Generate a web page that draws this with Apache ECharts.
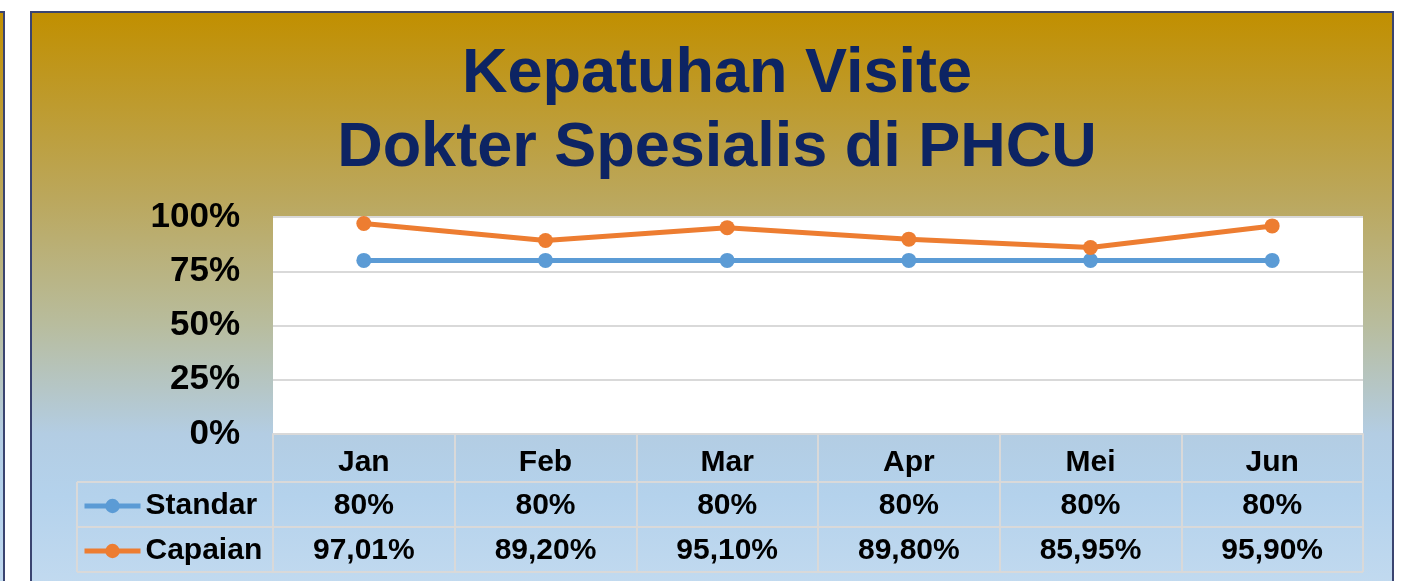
<!DOCTYPE html>
<html>
<head>
<meta charset="utf-8">
<title>Kepatuhan Visite Dokter Spesialis di PHCU</title>
<script src="https://cdn.jsdelivr.net/npm/echarts@6/dist/echarts.min.js"></script>
<style>
  html, body { margin: 0; padding: 0; background: #fff; }
  #chart { width: 1417px; height: 581px; }
</style>
</head>
<body>
<div id="chart"></div>
<script>
var months = ['Jan', 'Feb', 'Mar', 'Apr', 'Mei', 'Jun'];
var standar = [80, 80, 80, 80, 80, 80];
var capaian = [97.01, 89.20, 95.10, 89.80, 85.95, 95.90];
var seriesNames = ['Standar', 'Capaian'];

var FONT = '"Liberation Sans", Arial, sans-serif';
var GRID_LEFT = 273, GRID_TOP = 217, GRID_RIGHT = 54, GRID_BOTTOM = 147;
var ROW_H = 45;        // table row height
var TABLE_LEFT = 77;   // legend column left edge
var LINE_GRAY = '#D9D9D9';

// 80 -> "80%", 97.01 -> "97,01%"
function fmt(v) {
    if (v % 1 === 0) return v + '%';
    return v.toFixed(2).replace('.', ',') + '%';
}

var panelFill = {
    type: 'linear', x: 0, y: 0, x2: 0, y2: 1,
    colorStops: [
        { offset: 0, color: '#C18F00' },
        { offset: 0.3, color: '#BBA75C' },
        { offset: 0.5, color: '#B8BC9C' },
        { offset: 0.68, color: '#B3CDE3' },
        { offset: 0.78, color: '#B4D2EC' },
        { offset: 1, color: '#C9DEF1' }
    ]
};

var myChart = echarts.init(document.getElementById('chart'));

var W = 1417, H = 581;
var plotRight = W - GRID_RIGHT;
var axisY = H - GRID_BOTTOM;
var row1 = axisY + 48, row2 = row1 + ROW_H, row3 = row2 + ROW_H;

function hline(x1, x2, y) {
    return { type: 'line', z: 10, shape: { x1: x1, y1: y, x2: x2, y2: y },
             style: { stroke: LINE_GRAY, lineWidth: 2 } };
}

var option = {
    animation: false,
    textStyle: { fontFamily: FONT },
    title: {
        text: 'Kepatuhan Visite\nDokter Spesialis di PHCU',
        left: 712,
        textAlign: 'center',
        top: 33,
        textStyle: {
            fontFamily: FONT,
            fontSize: 63,
            fontWeight: 'bold',
            lineHeight: 74,
            color: '#0D2463'
        }
    },
    graphic: [
        // side panel sliver and main panel
        { type: 'rect', z: -10, shape: { x: -30, y: 12, width: 34, height: 620 },
          style: { fill: panelFill, stroke: '#3A4470', lineWidth: 2 } },
        { type: 'rect', z: -10, shape: { x: 31, y: 12, width: 1362, height: 620 },
          style: { fill: panelFill, stroke: '#3A4470', lineWidth: 2 } },
        // data table lines
        hline(TABLE_LEFT, plotRight, row1),
        hline(TABLE_LEFT, plotRight, row2),
        hline(TABLE_LEFT, plotRight, row3),
        { type: 'line', z: 10, shape: { x1: TABLE_LEFT, y1: row1, x2: TABLE_LEFT, y2: row3 },
          style: { stroke: LINE_GRAY, lineWidth: 2 } }
    ],
    legend: {
        data: seriesNames,
        orient: 'vertical',
        left: 82,
        top: row1 + 9,
        padding: 0,
        itemWidth: 56,
        itemHeight: 18,
        itemGap: 15,
        lineStyle: { width: 5 },
        textStyle: { fontFamily: FONT, fontSize: 30, fontWeight: 'bold', color: '#000', lineHeight: 30 }
    },
    grid: {
        left: GRID_LEFT, top: GRID_TOP, right: GRID_RIGHT, bottom: GRID_BOTTOM,
        show: true, backgroundColor: '#fff', borderWidth: 0
    },
    xAxis: [
        {
            type: 'category',
            data: months,
            boundaryGap: true,
            axisLine: { lineStyle: { color: LINE_GRAY, width: 2 } },
            axisTick: { show: true, length: row3 - axisY, lineStyle: { color: LINE_GRAY, width: 2 } },
            axisLabel: { margin: 14, fontFamily: FONT, fontSize: 30, fontWeight: 'bold', color: '#000' }
        },
        {
            type: 'category',
            data: months,
            position: 'bottom',
            offset: 45,
            axisLine: { show: false },
            axisTick: { show: false },
            axisLabel: {
                margin: 12, fontFamily: FONT, fontSize: 30, fontWeight: 'bold', color: '#000',
                formatter: function (v, i) { return fmt(standar[i]); }
            }
        },
        {
            type: 'category',
            data: months,
            position: 'bottom',
            offset: 90,
            axisLine: { show: false },
            axisTick: { show: false },
            axisLabel: {
                margin: 12, fontFamily: FONT, fontSize: 30, fontWeight: 'bold', color: '#000',
                formatter: function (v, i) { return fmt(capaian[i]); }
            }
        }
    ],
    yAxis: {
        type: 'value',
        min: 0,
        max: 100,
        interval: 25,
        axisLine: { show: false },
        axisTick: { show: false },
        axisLabel: {
            formatter: '{value}%', margin: 33, padding: [4, 0, 0, 0],
            fontFamily: FONT, fontSize: 35, fontWeight: 'bold', color: '#000'
        },
        splitLine: { lineStyle: { color: LINE_GRAY, width: 2 } }
    },
    series: [
        {
            name: 'Standar',
            type: 'line',
            data: standar,
            symbol: 'circle',
            symbolSize: 15,
            color: '#5B9BD5',
            lineStyle: { width: 5, color: '#5B9BD5' }
        },
        {
            name: 'Capaian',
            type: 'line',
            data: capaian,
            symbol: 'circle',
            symbolSize: 15,
            color: '#ED7D31',
            lineStyle: { width: 5, color: '#ED7D31' }
        }
    ]
};

myChart.setOption(option, true);
</script>
</body>
</html>
